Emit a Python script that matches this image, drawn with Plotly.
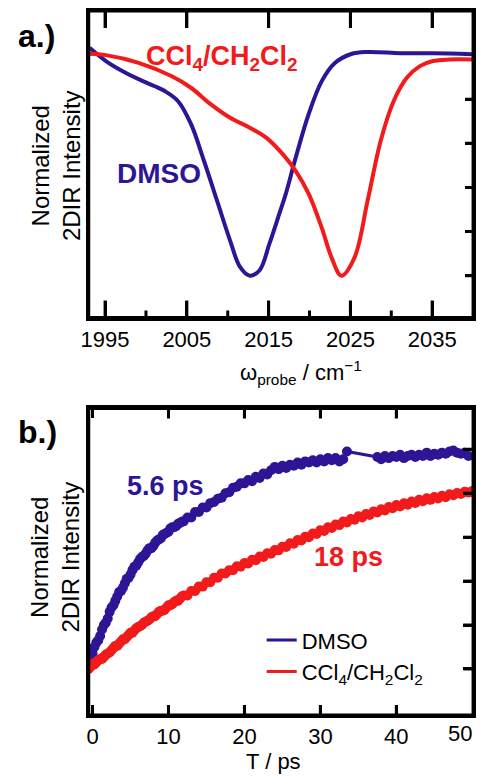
import plotly.graph_objects as go

# page body has an 8 px margin, so the figure is 8 px smaller than the window on each side
OFF = 8
W, H = 484 - 2 * OFF, 784 - 2 * OFF
FONT = "Arial"
BLUE = "#2E1596"
RED = "#F21A1A"

# ---------------- panel a data (normalized 2DIR slice) ----------------
dmso_wn = [1993.1, 1995.1, 1997.1, 1999.1, 2001.0, 2002.3, 2003.9, 2005.5, 2007.1,
           2008.7, 2010.3, 2011.5, 2012.7, 2013.9, 2015.1, 2016.3, 2017.1, 2018.3,
           2019.9, 2021.5, 2023.1, 2025.1, 2027.1, 2031.1, 2035.1, 2039.9]
dmso_int = [0.033, -0.027, -0.072, -0.109, -0.14, -0.163, -0.208, -0.312, -0.48,
            -0.661, -0.842, -0.96, -1.0, -0.975, -0.855, -0.72, -0.629, -0.466,
            -0.267, -0.118, -0.036, 0.005, 0.014, 0.009, 0.008, 0.004]

ccl4_wn = [1993.1, 1995.1, 1999.1, 2003.1, 2005.5, 2007.9, 2010.3, 2012.7, 2014.7,
           2016.7, 2018.3, 2019.9, 2021.5, 2022.7, 2023.9, 2025.5, 2027.1, 2028.7,
           2030.3, 2031.9, 2033.5, 2035.1, 2037.1, 2039.9]
ccl4_int = [0.006, 0.0, -0.035, -0.095, -0.148, -0.222, -0.284, -0.329, -0.374,
            -0.448, -0.525, -0.629, -0.783, -0.918, -1.0, -0.918, -0.661, -0.389,
            -0.208, -0.103, -0.05, -0.027, -0.02, -0.02]

wn_ticks = [1995, 2005, 2015, 2025, 2035]
wn_minor = [2000, 2010, 2020, 2030]
int_ticks_a = [-1.0, -0.8, -0.6, -0.4, -0.2]

# ---------------- panel b data (signal vs waiting time T) ----------------
t_dmso = [-0.5, -0.25, 0.0, 0.25, 0.5, 0.75, 1.0, 1.25, 1.5, 1.75,
          2.0, 2.25, 2.5, 2.75, 3.0, 3.25, 3.5, 3.75, 4.0, 4.25,
          4.5, 4.75, 5.0, 5.25, 5.5, 5.75, 6.0, 6.25, 6.5, 6.75,
          7.0, 7.25, 7.5, 7.75, 8.0, 8.25, 8.5, 8.75, 9.0, 9.25,
          9.5, 9.75, 10.0, 10.25, 10.5, 10.75, 11.0, 11.25, 11.5, 11.75,
          12.0, 12.5, 13.0, 13.5, 14.0, 14.5, 15.0, 15.5, 16.0, 16.5,
          17.0, 17.5, 18.0, 18.5, 19.0, 19.5, 20.0, 20.5, 21.0, 21.5,
          22.0, 22.5, 23.0, 23.5, 24.0, 24.5, 25.0, 25.5, 26.0, 26.5,
          27.0, 27.5, 28.0, 28.5, 29.0, 29.5, 30.0, 30.5, 31.0, 31.5,
          32.0, 32.5, 33.0, 33.5, 37.5, 38.0, 38.5, 39.0, 39.5, 40.0,
          40.5, 41.0, 41.5, 42.0, 42.5, 43.0, 43.5, 44.0, 44.5, 45.0,
          45.5, 46.0, 46.5, 47.0, 47.5, 48.0, 48.5, 49.0, 49.5]
v_dmso = [0.05, 0.06, 0.07, 0.10, 0.12, 0.13, 0.15, 0.18, 0.20, 0.21,
          0.23, 0.26, 0.28, 0.29, 0.31, 0.33, 0.35, 0.355, 0.37, 0.39,
          0.41, 0.415, 0.43, 0.45, 0.465, 0.47, 0.485, 0.50, 0.51, 0.515,
          0.525, 0.54, 0.55, 0.55, 0.56, 0.575, 0.585, 0.59, 0.595, 0.61,
          0.615, 0.62, 0.625, 0.64, 0.645, 0.645, 0.65, 0.66, 0.665, 0.67,
          0.672, 0.69, 0.69, 0.715, 0.715, 0.735, 0.735, 0.755, 0.76, 0.775,
          0.78, 0.80, 0.805, 0.825, 0.83, 0.845, 0.845, 0.86, 0.855, 0.875,
          0.87, 0.89, 0.885, 0.905, 0.92, 0.91, 0.925, 0.915, 0.93, 0.925,
          0.94, 0.93, 0.945, 0.94, 0.95, 0.94, 0.955, 0.945, 0.96, 0.95,
          0.96, 0.945, 0.955, 0.99, 0.965, 0.955, 0.97, 0.96, 0.97, 0.965,
          0.975, 0.96, 0.97, 0.975, 0.965, 0.975, 0.97, 0.985, 0.97, 0.98,
          0.975, 0.985, 0.98, 0.99, 0.995, 0.985, 0.98, 0.985, 0.97]

t_ccl4 = [-0.5, -0.25, 0.0, 0.25, 0.5, 0.75, 1.0, 1.25, 1.5, 1.75,
          2.0, 2.25, 2.5, 2.75, 3.0, 3.25, 3.5, 3.75, 4.0, 4.25,
          4.5, 4.75, 5.0, 5.25, 5.5, 5.75, 6.0, 6.25, 6.5, 6.75,
          7.0, 7.25, 7.5, 7.75, 8.0, 8.25, 8.5, 8.75, 9.0, 9.25,
          9.5, 9.75, 10.0, 10.25, 10.5, 10.75, 11.0, 11.25, 11.5, 11.75,
          12.0, 12.5, 13.0, 13.5, 14.0, 14.5, 15.0, 15.5, 16.0, 16.5,
          17.0, 17.5, 18.0, 18.5, 19.0, 19.5, 20.0, 20.5, 21.0, 21.5,
          22.0, 22.5, 23.0, 23.5, 24.0, 24.5, 25.0, 25.5, 26.0, 26.5,
          27.0, 27.5, 28.0, 28.5, 29.0, 29.5, 30.0, 30.5, 31.0, 31.5,
          32.0, 32.5, 33.0, 33.5, 34.0, 34.5, 35.0, 35.5, 36.0, 36.5,
          37.0, 37.5, 38.0, 38.5, 39.0, 39.5, 40.0, 40.5, 41.0, 41.5,
          42.0, 42.5, 43.0, 43.5, 44.0, 44.5, 45.0, 45.5, 46.0, 46.5,
          47.0, 47.5, 48.0, 48.5, 49.0, 49.5, 50.0]
v_ccl4 = [0.0, 0.01, 0.025, 0.02, 0.03, 0.04, 0.045, 0.045, 0.055, 0.065,
          0.07, 0.075, 0.085, 0.095, 0.105, 0.105, 0.115, 0.125, 0.135, 0.135,
          0.145, 0.155, 0.165, 0.165, 0.175, 0.185, 0.19, 0.195, 0.20, 0.21,
          0.215, 0.22, 0.225, 0.235, 0.24, 0.24, 0.25, 0.26, 0.265, 0.265,
          0.27, 0.28, 0.29, 0.29, 0.295, 0.305, 0.31, 0.31, 0.32, 0.33,
          0.335, 0.335, 0.355, 0.355, 0.375, 0.375, 0.395, 0.395, 0.415, 0.415,
          0.435, 0.435, 0.45, 0.45, 0.468, 0.465, 0.482, 0.48, 0.497, 0.495,
          0.512, 0.51, 0.527, 0.525, 0.542, 0.54, 0.557, 0.555, 0.572, 0.57,
          0.587, 0.585, 0.602, 0.6, 0.617, 0.615, 0.632, 0.628, 0.645, 0.642,
          0.658, 0.655, 0.671, 0.667, 0.683, 0.679, 0.695, 0.69, 0.705, 0.701,
          0.717, 0.712, 0.727, 0.722, 0.737, 0.732, 0.746, 0.74, 0.754, 0.748,
          0.762, 0.756, 0.77, 0.764, 0.777, 0.77, 0.783, 0.776, 0.789, 0.782,
          0.795, 0.791, 0.801, 0.797, 0.807, 0.803, 0.81]

t_ticks = [0, 10, 20, 30, 40, 50]
t_ticktext = ["0", "10", "20", "30", "40", ""]
int_ticks_b = [0.0, 0.2, 0.4, 0.6, 0.8, 1.0]


def px(x):
    return (x - OFF) / W


def py(y):
    return 1 - (y - OFF) / H


fig = go.Figure()

fig.add_trace(go.Scatter(x=dmso_wn, y=dmso_int, mode="lines",
                         line=dict(color=BLUE, width=4, shape="spline", smoothing=1.0),
                         showlegend=False, xaxis="x", yaxis="y"))
fig.add_trace(go.Scatter(x=ccl4_wn, y=ccl4_int, mode="lines",
                         line=dict(color=RED, width=4, shape="spline", smoothing=1.0),
                         showlegend=False, xaxis="x", yaxis="y"))

fig.add_trace(go.Scatter(x=t_dmso, y=v_dmso, mode="lines+markers", line=dict(color=BLUE, width=3),
                         marker=dict(color=BLUE, size=10), showlegend=False, xaxis="x2", yaxis="y2"))
fig.add_trace(go.Scatter(x=t_ccl4, y=v_ccl4, mode="lines+markers", line=dict(color=RED, width=3),
                         marker=dict(color=RED, size=10), showlegend=False, xaxis="x2", yaxis="y2"))
fig.add_trace(go.Scatter(x=[None], y=[None], mode="lines", line=dict(color=BLUE, width=3), name="DMSO",
                         xaxis="x2", yaxis="y2"))
fig.add_trace(go.Scatter(x=[None], y=[None], mode="lines", line=dict(color=RED, width=3),
                         name="CCl<sub>4</sub>/CH<sub>2</sub>Cl<sub>2</sub>", xaxis="x2", yaxis="y2"))

xdom = [px(82), px(473)]
PLOT_W, PLOT_H = 391.0, 307.0


def axis(**kw):
    d = dict(showline=True, linewidth=3, linecolor="#000000", ticks="inside", tickwidth=3, tickcolor="#000000",
             showgrid=False, zeroline=False, tickfont=dict(family=FONT, size=22, color="#000000"))
    d.update(kw)
    return d


fig.update_layout(
    width=W, height=H, margin=dict(l=0, r=0, t=0, b=0),
    plot_bgcolor="white",
    xaxis=axis(domain=xdom, anchor="y", range=[1993, 2040], tickvals=wn_ticks, ticklen=17, mirror="ticks"),
    yaxis=axis(domain=[py(317), py(10)], anchor="x", range=[-1.19, 0.2], tickvals=int_ticks_a, ticklen=8,
               side="right", mirror=True, showticklabels=False),
    xaxis2=axis(domain=xdom, anchor="y2", range=[-0.5, 50.1], tickvals=t_ticks, ticktext=t_ticktext,
                ticklen=10, mirror="ticks"),
    yaxis2=axis(domain=[py(715), py(408)], anchor="x2", range=[-0.21, 1.186], tickvals=int_ticks_b, ticklen=10,
                side="right", mirror=True, showticklabels=False),
    legend=dict(x=px(258), y=py(619), xanchor="left", yanchor="top", bgcolor="rgba(0,0,0,0)",
                font=dict(family=FONT, size=22, color="#000000"), tracegroupgap=0),
)

TICK = dict(color="#000000", width=3)
# plot frames
for xr, yr in (("x domain", "y domain"), ("x2 domain", "y2 domain")):
    fig.add_shape(type="rect", xref=xr, yref=yr, x0=0, x1=1, y0=0, y1=1, line=TICK, layer="above")
# tick marks (inside, drawn from the tick lists)
for v in wn_ticks:
    fig.add_shape(type="line", xref="x", yref="y domain", x0=v, x1=v, y0=0, y1=17 / PLOT_H, line=TICK)
    fig.add_shape(type="line", xref="x", yref="y domain", x0=v, x1=v, y0=1 - 17 / PLOT_H, y1=1, line=TICK)
for v in wn_minor:
    fig.add_shape(type="line", xref="x", yref="y domain", x0=v, x1=v, y0=0, y1=7 / PLOT_H, line=TICK)
for v in int_ticks_a:
    fig.add_shape(type="line", xref="x domain", yref="y", x0=1 - 8 / PLOT_W, x1=1, y0=v, y1=v, line=TICK)
for v in t_ticks[1:-1]:
    fig.add_shape(type="line", xref="x2", yref="y2 domain", x0=v, x1=v, y0=0, y1=10 / PLOT_H, line=TICK)
    fig.add_shape(type="line", xref="x2", yref="y2 domain", x0=v, x1=v, y0=1 - 10 / PLOT_H, y1=1, line=TICK)
for v in int_ticks_b:
    fig.add_shape(type="line", xref="x2 domain", yref="y2", x0=1 - 10 / PLOT_W, x1=1, y0=v, y1=v, line=TICK)

ann = []


def add(text, x, y, size, color="#000000", bold=False, xanchor="center", angle=0):
    ann.append(dict(text=("<b>%s</b>" % text) if bold else text, x=px(x), y=py(y), xref="paper", yref="paper",
                    showarrow=False, xanchor=xanchor, yanchor="middle", textangle=angle,
                    font=dict(family=FONT, size=size, color=color)))


add("a.)", 8, 35, 32, bold=True, xanchor="left")
add("b.)", 8, 432, 32, bold=True, xanchor="left")
add("CCl<sub>4</sub>/CH<sub>2</sub>Cl<sub>2</sub>", 138, 57, 27, color=RED, bold=True, xanchor="left")
add("DMSO", 109, 173, 28, color=BLUE, bold=True, xanchor="left")
add("5.6 ps", 119, 486, 27, color=BLUE, bold=True, xanchor="left")
add("18 ps", 309, 557, 27, color=RED, bold=True, xanchor="left")
add("Normalized<br>2DIR Intensity", 48, 165, 24, angle=-90)
add("Normalized<br>2DIR Intensity", 48, 557, 24, angle=-90)
add("ω<sub>probe</sub> / cm<sup>−1</sup>", 298, 372, 22)
add("T / ps", 270, 761, 22)
add("50", 460, 733, 22)
fig.update_layout(annotations=ann)

fig.write_html("out.html")
